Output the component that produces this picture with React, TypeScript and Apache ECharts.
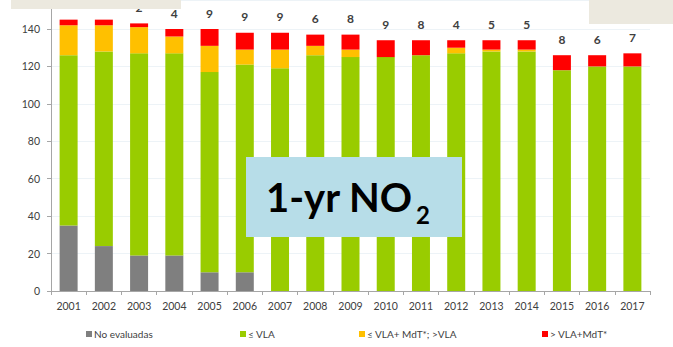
import React, { useEffect, useRef } from "react";
import * as echarts from "echarts";

const years = [
  "2001", "2002", "2003", "2004", "2005", "2006", "2007", "2008", "2009",
  "2010", "2011", "2012", "2013", "2014", "2015", "2016", "2017",
];
const noEvaluadas = [35, 24, 19, 19, 10, 10, 0, 0, 0, 0, 0, 0, 0, 0, 0, 0, 0];
const bajoVLA = [91, 104, 108, 108, 107, 111, 119, 126, 125, 125, 126, 127, 128, 128, 118, 120, 120];
const entreVLAyMdT = [16, 14, 14, 9, 14, 8, 10, 5, 4, 0, 0, 3, 1, 1, 0, 0, 0];
const sobreVLAMdT = [3, 3, 2, 4, 9, 9, 9, 6, 8, 9, 8, 4, 5, 5, 8, 6, 7];

// years whose count label sits under the banner strip at the top edge
const bannerCoveredYears = ["2001", "2002"];

const seriesNames = ["No evaluadas", "≤ VLA", "≤ VLA+ MdT*; >VLA", "> VLA+MdT*"];
const seriesColors = ["#7f7f7f", "#99cc00", "#ffc000", "#ff0000"];
// the value axis runs past the top edge of the frame; 160 is cut off there
const yMin = 0;
const yMax = 155.5;
const yStep = 20;

// left edge of each legend entry's swatch
const legendLefts = [86, 240, 359, 542];

const FONT = "Lato, 'Liberation Sans', sans-serif";

export default function App() {
  const ref = useRef<HTMLDivElement>(null);

  useEffect(() => {
    if (!ref.current) return;
    const chart = echarts.init(ref.current, undefined, { renderer: "svg" });
    const values = [noEvaluadas, bajoVLA, entreVLAyMdT, sobreVLAMdT];

    const redData = sobreVLAMdT.map((v, i) =>
      bannerCoveredYears.includes(years[i]) ? { value: v, label: { show: false } } : v
    );

    chart.setOption({
      animation: false,
      textStyle: { fontFamily: FONT },
      grid: { left: 51, right: 23, top: 0, bottom: 56, containLabel: false },
      legend: seriesNames.map((name, i) => ({
        data: [name],
        left: legendLefts[i],
        top: 329,
        padding: 0,
        itemWidth: 6,
        itemHeight: 6,
        icon: "rect",
        textStyle: { fontSize: 10, color: "#404040", fontFamily: FONT, padding: [0, 0, 0, -3] },
      })),
      xAxis: {
        type: "category",
        data: years,
        axisLine: { lineStyle: { color: "#a6a6a6", width: 1 } },
        axisTick: { show: true, length: 4, lineStyle: { color: "#a6a6a6" } },
        axisLabel: { fontSize: 10.5, color: "#404040", margin: 9, fontFamily: FONT },
      },
      yAxis: {
        type: "value",
        min: yMin,
        max: yMax,
        interval: yStep,
        axisLine: { show: true, lineStyle: { color: "#a6a6a6", width: 1 } },
        axisTick: { show: true, length: 4, lineStyle: { color: "#a6a6a6" } },
        axisLabel: {
          fontSize: 10.5,
          color: "#404040",
          margin: 11,
          fontFamily: FONT,
          showMaxLabel: false,
        },
        splitLine: { show: true, lineStyle: { color: "#edf3f7", width: 1 } },
      },
      series: seriesNames.map((name, i) => ({
        name,
        type: "bar",
        stack: "total",
        barWidth: 18,
        data: i === 3 ? redData : values[i],
        itemStyle: { color: seriesColors[i] },
        label:
          i === 3
            ? {
                show: true,
                position: "top",
                distance: 10,
                fontSize: 12,
                fontWeight: "bold",
                color: "#404040",
                fontFamily: FONT,
              }
            : { show: false },
      })),
      graphic: [
        {
          type: "rect",
          z: 100,
          zlevel: 1,
          shape: { x: 11, y: 0, width: 170, height: 9 },
          style: { fill: "#ece9df" },
        },
        {
          type: "rect",
          z: 100,
          zlevel: 1,
          shape: { x: 589, y: 0, width: 84, height: 24 },
          style: { fill: "#ece9df" },
        },
        {
          type: "rect",
          z: 100,
          zlevel: 1,
          shape: { x: 246, y: 157, width: 216, height: 80 },
          style: { fill: "#b7dde8" },
        },
        {
          type: "text",
          z: 101,
          zlevel: 1,
          x: 266,
          y: 197,
          style: {
            text: "1-yr NO",
            fontSize: 40,
            fontWeight: "bold",
            fontFamily: FONT,
            fill: "#000000",
            align: "left",
            verticalAlign: "middle",
          },
        },
        {
          type: "text",
          z: 101,
          zlevel: 1,
          x: 416,
          y: 214,
          style: {
            text: "2",
            fontSize: 24,
            fontWeight: "bold",
            fontFamily: FONT,
            fill: "#000000",
            align: "left",
            verticalAlign: "middle",
          },
        },
      ],
    });

    return () => chart.dispose();
  }, []);

  return (
    <div
      ref={ref}
      style={{ position: "fixed", left: 0, top: 0, width: 673, height: 347, background: "#ffffff" }}
    />
  );
}
